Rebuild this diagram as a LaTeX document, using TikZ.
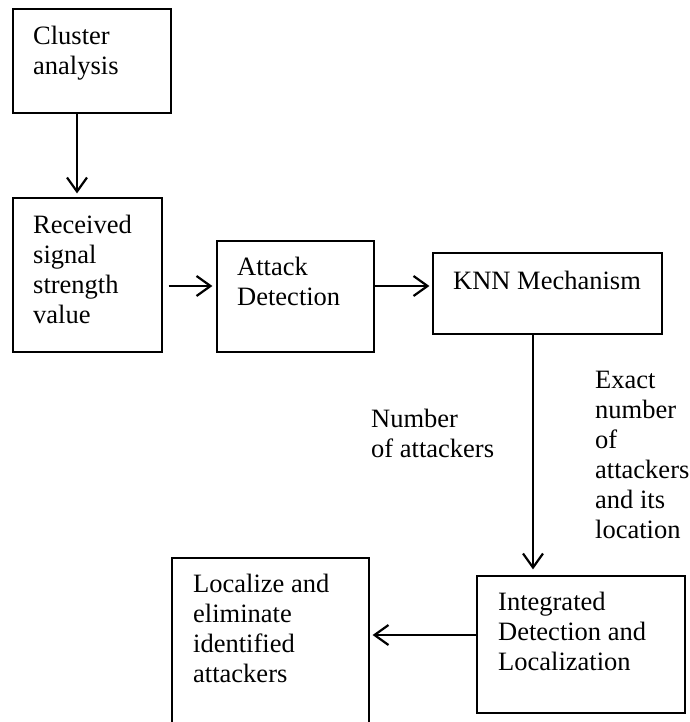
\documentclass[tikz,border=0pt]{standalone}
\usepackage{fontspec}
\setmainfont{Liberation Serif}
\usetikzlibrary{arrows.meta}
\tikzset{
  box/.style={draw=black, line width=1.2pt, rectangle, inner sep=0pt},
  % texts are placed by the baseline of their last line
  txt/.style={anchor=base west, align=left, inner sep=0pt,
    font=\fontsize{26.5}{30}\selectfont},
  arr/.style={line width=2.2pt, -{Straight Barb[length=14pt,width=20pt,line width=2.2pt]}}
}
\begin{document}
\begin{tikzpicture}[x=1pt,y=-1pt]
\useasboundingbox (0,0) rectangle (689,722);
\clip (0,0) rectangle (689,722);

% process boxes
\node[box, minimum width=158pt, minimum height=104pt] (cluster) at (92,61) {};
\node[box, minimum width=149pt, minimum height=154pt] (recv) at (87.5,275) {};
\node[box, minimum width=157pt, minimum height=111pt] (attack) at (295.5,296.5) {};
\node[box, minimum width=229pt, minimum height=81pt] (knn) at (547.5,293.5) {};
\node[box, minimum width=208pt, minimum height=137pt] (integ) at (581,644.5) {};
\node[box, minimum width=197pt, minimum height=202pt] (local) at (270.5,659) {};

% box texts
\node[txt] (clusterT) at (33,75) {Cluster\\analysis};
\node[txt] (recvT) at (33,323) {Received\\signal\\strength\\value};
\node[txt] (attackT) at (237,305) {Attack\\Detection};
\node[txt] (knnT) at (453,289) {KNN Mechanism};
\node[txt] (integT) at (498,670) {Integrated\\Detection and\\Localization};
\node[txt] (localT) at (193,682) {Localize and\\eliminate\\identified\\attackers};

% edge labels
\node[txt] (numT) at (371,457) {Number\\of attackers};
\node[txt] (exactT) at (595,538) {Exact\\number\\of\\attackers\\and its\\location};

% connectors
\coordinate (c1) at ([xshift=-15pt]cluster.south);
\draw[arr, shorten >=4pt] (c1) -- (c1 |- recv.north);

\coordinate (a1) at ([yshift=10.5pt]attack.west);
\draw[arr, shorten <=6pt, shorten >=4pt] (recv.east |- a1) -- (a1);

\coordinate (k0) at ([yshift=7.5pt]knn.west);
\draw[arr, shorten >=3pt] (attack.east |- k0) -- (k0);

\coordinate (k1) at ([xshift=-14.5pt]knn.south);
\draw[arr, shorten >=6pt] (k1) -- (k1 |- integ.north);

\coordinate (i1) at ([yshift=9.5pt]integ.west);
\draw[arr, shorten >=3pt] (i1) -- (local.east |- i1);
\end{tikzpicture}
\end{document}
